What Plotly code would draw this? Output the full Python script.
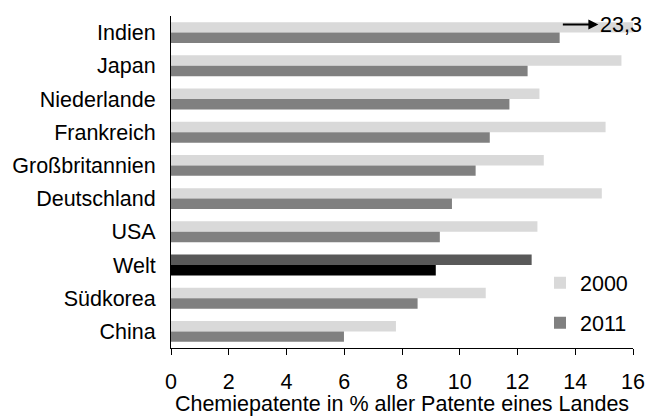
import plotly.graph_objects as go

# Chemiepatente in % aller Patente eines Landes
laender = ["Indien", "Japan", "Niederlande", "Frankreich", "Großbritannien",
           "Deutschland", "USA", "Welt", "Südkorea", "China"]
werte_2000 = [23.3, 15.60, 12.76, 15.05, 12.91, 14.92, 12.69, 12.49, 10.90, 7.79]
werte_2011 = [13.46, 12.35, 11.72, 11.04, 10.55, 9.73, 9.31, 9.17, 8.54, 5.99]
x_ticks = [0, 2, 4, 6, 8, 10, 12, 14, 16]

FONT = "Liberation Sans, Arial, sans-serif"
C2000, C2011 = "#d9d9d9", "#808080"
WELT2000, WELT2011 = "#595959", "#000000"

farben_2000 = [WELT2000 if l == "Welt" else C2000 for l in laender]
farben_2011 = [WELT2011 if l == "Welt" else C2011 for l in laender]

fig = go.Figure()
fig.add_trace(go.Bar(
    y=laender, x=werte_2000, orientation="h", name="2000",
    marker=dict(color=farben_2000, line_width=0), legendgroup="a",
))
fig.add_trace(go.Bar(
    y=laender, x=werte_2011, orientation="h", name="2011",
    marker=dict(color=farben_2011, line_width=0), legendgroup="b",
))

# Indien 2000 value is off scale
fig.add_annotation(
    x=14.8, y="Indien", xref="x", yref="y", text=" ", showarrow=True,
    ax=-40, ay=0, axref="pixel", ayref="pixel", yshift=8,
    arrowhead=2, arrowsize=1, arrowwidth=2, arrowcolor="black",
)
fig.add_annotation(
    x=1, y="Indien", xref="paper", yref="y", text="23,3", showarrow=False,
    xanchor="right", xshift=11, yshift=8,
    font=dict(family=FONT, size=21.5, color="black"),
)

fig.update_layout(
    width=646, height=416,
    barmode="group", bargap=0.37, bargroupgap=0,
    plot_bgcolor="white", paper_bgcolor="white",
    font=dict(family=FONT, size=21.5, color="black"),
    margin=dict(l=171, r=13, t=16, b=68, autoexpand=False),
    legend=dict(
        x=1.0, y=0.258, xanchor="right", yanchor="top",
        font=dict(size=21.5), tracegroupgap=9, traceorder="grouped",
        bgcolor="rgba(0,0,0,0)",
    ),
)
fig.update_xaxes(
    range=[0, 16], tickvals=x_ticks, showgrid=False, zeroline=False,
    showline=True, linecolor="black", linewidth=1, automargin=False,
    ticks="outside", ticklen=6, tickcolor="black", ticklabelstandoff=8,
    title=dict(text="Chemiepatente in % aller Patente eines Landes", standoff=12,
               font=dict(size=21.5)),
)
fig.update_yaxes(
    autorange="reversed", showgrid=False, zeroline=False,
    showline=True, linecolor="black", linewidth=1, automargin=False,
    ticks="", ticklabelstandoff=10,
)

fig.write_html("out.html", config={"displayModeBar": False},
               post_script="document.body.style.margin='0';")
